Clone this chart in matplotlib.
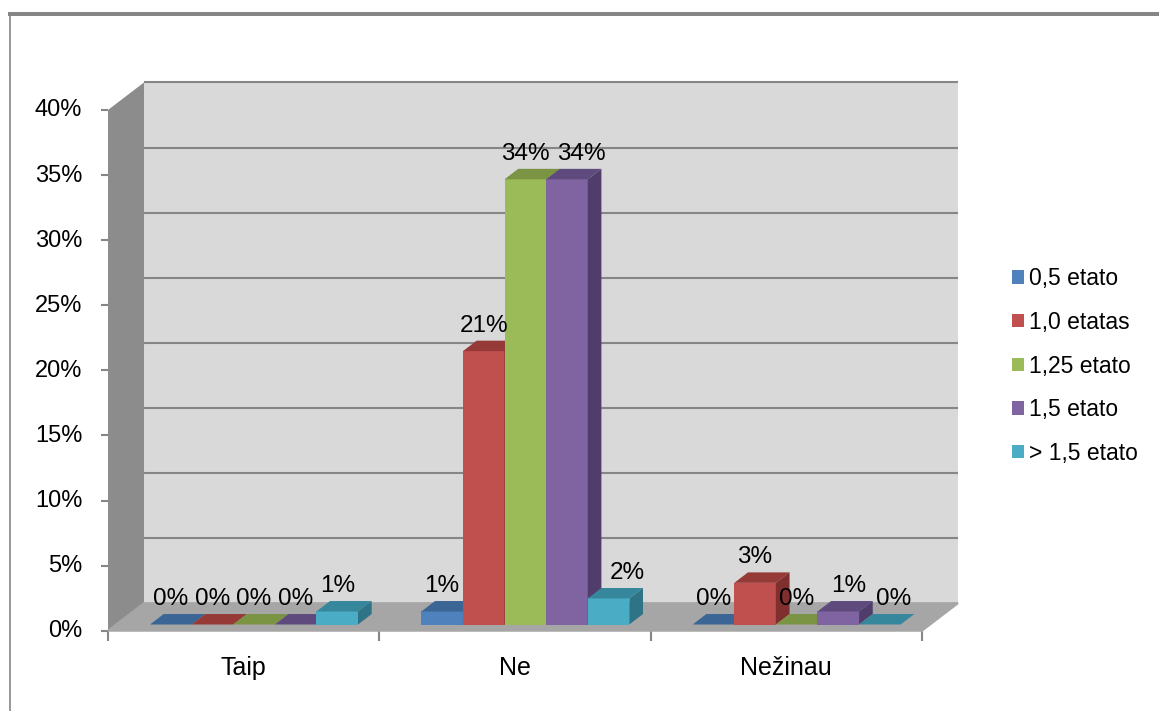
"Clustered pseudo-3D column chart of answers by job fraction."
import numpy as np
import matplotlib
matplotlib.use("Agg")
import matplotlib.pyplot as plt
from matplotlib.lines import Line2D
from matplotlib.patches import Polygon
from matplotlib.transforms import ScaledTranslation

categories = ["Taip", "Ne", "Nežinau"]
series = ["0,5 etato", "1,0 etatas", "1,25 etato", "1,5 etato", "> 1,5 etato"]
values_05 = [0, 1, 0]
values_10 = [0, 21, 3.2]
values_125 = [0, 34.2, 0]
values_15 = [0, 34.2, 1]
values_over = [1, 2, 0]
y_ticks = [0, 5, 10, 15, 20, 25, 30, 35, 40]

front = ["#4f81bd", "#c0504d", "#9bbb59", "#8064a2", "#4bacc6"]
top = ["#3a6595", "#953a37", "#7a9444", "#5f4a7d", "#37879c"]
side = ["#2f5480", "#7f2f2d", "#667c38", "#503d6b", "#2e7386"]

W, H = 1159, 711
DX = 36 / 271.3     # full depth of the box, in category units
DY = 27.5 / 13      # same, in percent units
BAR_D0, BAR_D1 = 0.225, 0.605
BAR_W = 0.1533
GROUP_START = 0.125
# labels the author of the original dragged sideways (px)
nudge = {(1, 3): 14, (1, 4): 19, (2, 3): 10, (2, 4): 14}


def proj(x, y, d):
    return x + d * DX, y + d * DY


plt.rcParams["font.family"] = ["Liberation Sans", "DejaVu Sans"]
plt.rcParams["font.size"] = 16.5

fig = plt.figure(figsize=(W / 100, H / 100), dpi=100)
ax = fig.add_axes([108 / W, (H - 630.7) / H, 814 / W, 520.7 / H])
ax.set_xlim(0, 3)
ax.set_ylim(0, 40)
ax.patch.set_visible(False)
for s in ax.spines.values():
    s.set_visible(False)

# frame of the chart area, only top and left survive in the original
fig.add_artist(Line2D([10 / W, 1], [1 - 14 / H, 1 - 14 / H], color="#868686", lw=2.9))
fig.add_artist(Line2D([10 / W, 10 / W], [0, 1 - 14 / H], color="#868686", lw=1.2))

# box: back wall, left wall, floor
ax.add_patch(Polygon([proj(0, 0, 1), proj(3, 0, 1), proj(3, 40, 1), proj(0, 40, 1)],
                     fc="#d9d9d9", ec="none", clip_on=False, zorder=1))
ax.add_patch(Polygon([proj(0, 0, 0), proj(0, 40, 0), proj(0, 40, 1), proj(0, 0, 1)],
                     fc="#8c8c8c", ec="none", clip_on=False, zorder=1))
ax.add_patch(Polygon([proj(0, 0, 0), proj(3, 0, 0), proj(3, 0, 1), proj(0, 0, 1)],
                     fc="#a6a6a6", ec="#a6a6a6", lw=1.5, clip_on=False, zorder=2))
for t in y_ticks[1:]:
    xs, ys = zip(proj(0, t, 1), proj(3, t, 1))
    ax.plot(xs, ys, color="#868686", lw=1.5, clip_on=False, zorder=1.5, solid_capstyle="butt")

# bars, left to right so each front covers the side of the previous one
all_values = [values_05, values_10, values_125, values_15, values_over]
base = BAR_D0 * DY
shift = BAR_D0 * DX
depth = BAR_D1 - BAR_D0
for i, (name, vals) in enumerate(zip(series, all_values)):
    xs = np.arange(len(categories)) + GROUP_START + i * BAR_W + shift
    z = 3 + i
    ax.bar(xs, vals, BAR_W, bottom=base, align="edge", color=front[i], label=name,
           clip_on=False, zorder=z + 0.5)
    for g, (x, v) in enumerate(zip(xs, vals)):
        y = base + v
        ax.add_patch(Polygon([(x, y), (x + BAR_W, y), proj(x + BAR_W, y, depth), proj(x, y, depth)],
                             fc=top[i], ec="none", clip_on=False, zorder=z + 0.5))
        ax.add_patch(Polygon([(x + BAR_W, base), (x + BAR_W, y), proj(x + BAR_W, y, depth),
                              proj(x + BAR_W, base, depth)],
                             fc=side[i], ec="none", clip_on=False, zorder=z + 0.5))
        ax.annotate("%.0f%%" % v, (x + BAR_W / 2, y), xytext=(nudge.get((g, i), 0) * 0.72, 25.5 * 0.72),
                    textcoords="offset points", ha="center", va="center", color="black",
                    fontsize=17.5, annotation_clip=False, zorder=20)

# axes furniture
ax.set_yticks(y_ticks)
ax.set_yticklabels(["%d%%" % t for t in y_ticks], fontsize=17)
ax.tick_params(axis="y", length=5, width=1.5, color="#868686", pad=13.5)
up = ScaledTranslation(0, 2 / 100, fig.dpi_scale_trans)
for lab in ax.get_yticklabels():
    lab.set_transform(lab.get_transform() + up)
ax.set_xticks(range(len(categories) + 1))
ax.set_xticklabels([])
ax.tick_params(axis="x", which="major", length=7.5, width=1.5, color="#868686")
ax.set_xticks(np.arange(len(categories)) + 0.5, minor=True)
ax.set_xticklabels(categories, minor=True, fontsize=18)
ax.tick_params(axis="x", which="minor", length=0, pad=18.5)

leg = ax.legend(loc="center left", bbox_to_anchor=(1012 / W, 1 - 366 / H), bbox_transform=fig.transFigure,
                frameon=False, borderpad=0, borderaxespad=0, handlelength=0.52, handleheight=0.52,
                handletextpad=0.22, labelspacing=0.9)

fig.savefig("out.png", dpi=100)
